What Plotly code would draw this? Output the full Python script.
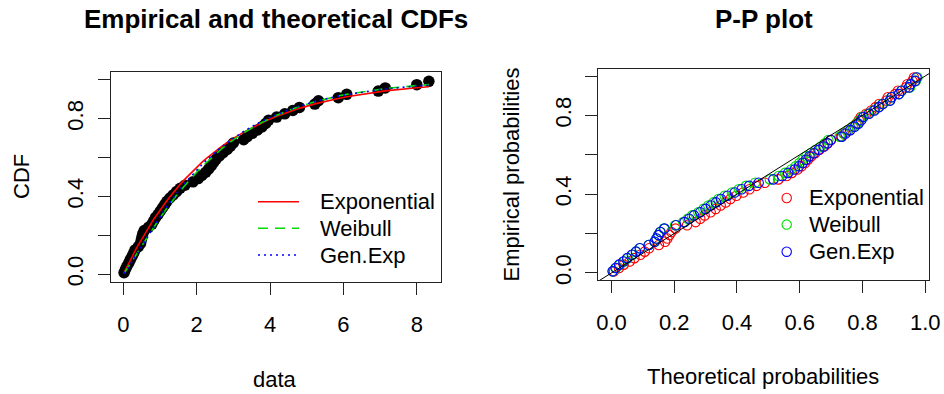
import plotly.graph_objects as go

# ---------------- data ----------------
data_x = [0.02, 0.06, 0.10, 0.15, 0.19, 0.24, 0.28, 0.32, 0.41, 0.47,
          0.49, 0.51, 0.53, 0.57, 0.69, 0.78, 0.83, 0.88, 0.95, 1.01,
          1.07, 1.13, 1.19, 1.27, 1.36, 1.45, 1.55, 1.68, 1.90, 2.04,
          2.14, 2.25, 2.33, 2.40, 2.46, 2.53, 2.62, 2.72, 2.83, 2.92,
          3.00, 3.28, 3.38, 3.52, 3.66, 3.78, 3.88, 3.96, 4.18, 4.40,
          4.62, 4.80, 5.22, 5.32, 5.86, 6.09, 6.95, 7.14, 8.00, 8.33]

emp_prob = [0.008, 0.025, 0.042, 0.058, 0.075, 0.092, 0.108, 0.125, 0.142, 0.158,
            0.175, 0.192, 0.208, 0.225, 0.242, 0.258, 0.275, 0.292, 0.308, 0.325,
            0.342, 0.358, 0.375, 0.392, 0.408, 0.425, 0.442, 0.458, 0.475, 0.492,
            0.508, 0.525, 0.542, 0.558, 0.575, 0.592, 0.608, 0.625, 0.642, 0.658,
            0.675, 0.692, 0.708, 0.725, 0.742, 0.758, 0.775, 0.792, 0.808, 0.825,
            0.842, 0.858, 0.875, 0.892, 0.908, 0.925, 0.942, 0.958, 0.975, 0.992]

cdf_exp = [0.008, 0.024, 0.039, 0.058, 0.073, 0.092, 0.106, 0.120, 0.151, 0.171,
           0.178, 0.185, 0.191, 0.204, 0.241, 0.268, 0.283, 0.297, 0.316, 0.332,
           0.348, 0.364, 0.379, 0.398, 0.420, 0.440, 0.462, 0.489, 0.532, 0.558,
           0.575, 0.593, 0.606, 0.617, 0.626, 0.637, 0.649, 0.663, 0.678, 0.689,
           0.699, 0.731, 0.741, 0.755, 0.769, 0.780, 0.788, 0.795, 0.812, 0.828,
           0.842, 0.853, 0.876, 0.881, 0.904, 0.913, 0.938, 0.943, 0.959, 0.964]

cdf_weib = [0.004, 0.015, 0.026, 0.040, 0.052, 0.067, 0.079, 0.091, 0.119, 0.137,
            0.143, 0.149, 0.155, 0.167, 0.203, 0.229, 0.243, 0.257, 0.277, 0.293,
            0.309, 0.325, 0.341, 0.361, 0.384, 0.406, 0.429, 0.458, 0.505, 0.533,
            0.553, 0.573, 0.587, 0.599, 0.609, 0.621, 0.635, 0.651, 0.667, 0.680,
            0.691, 0.727, 0.739, 0.754, 0.769, 0.781, 0.791, 0.799, 0.818, 0.835,
            0.851, 0.863, 0.887, 0.892, 0.917, 0.925, 0.951, 0.955, 0.970, 0.975]

cdf_genexp = [0.004, 0.013, 0.024, 0.038, 0.050, 0.065, 0.078, 0.090, 0.119, 0.138,
              0.144, 0.150, 0.156, 0.169, 0.206, 0.233, 0.248, 0.263, 0.283, 0.300,
              0.317, 0.333, 0.349, 0.370, 0.393, 0.415, 0.439, 0.469, 0.516, 0.544,
              0.563, 0.584, 0.598, 0.610, 0.620, 0.631, 0.645, 0.660, 0.676, 0.689,
              0.699, 0.734, 0.746, 0.761, 0.775, 0.787, 0.796, 0.803, 0.821, 0.838,
              0.853, 0.865, 0.888, 0.893, 0.916, 0.924, 0.948, 0.953, 0.968, 0.972]

model_names = ["Exponential", "Weibull", "Gen.Exp"]
model_cdfs = [cdf_exp, cdf_weib, cdf_genexp]

data_ticks = [0, 2, 4, 6, 8]
prob_ticks = [0.0, 0.2, 0.4, 0.6, 0.8, 1.0]
prob_y_ticktext = ["0.0", "", "0.4", "", "0.8", ""]
prob_x_ticktext = ["0.0", "0.2", "0.4", "0.6", "0.8", "1.0"]
identity_line = [-0.1, 1.1]

# ---------------- styling ----------------
W, H = 944, 394
FONT = "Liberation Sans, Arial, sans-serif"
colors = ["#FF0000", "#00DD00", "#0000FF"]
dashes = ["solid", "10px,7px", "2px,4px"]
AX = "#222222"


def px(x):
    """window pixel x -> paper fraction"""
    return x / W


def py(y):
    """window pixel y (from top) -> paper fraction"""
    return 1 - y / H


fig = go.Figure()

# Left panel: empirical points then theoretical CDF curves
fig.add_trace(go.Scatter(x=data_x, y=emp_prob, mode="markers",
                         marker=dict(color="black", size=11.5),
                         xaxis="x", yaxis="y", showlegend=False, name="data"))
for name, cdf, c, d in zip(model_names, model_cdfs, colors, dashes):
    fig.add_trace(go.Scatter(x=data_x, y=cdf, mode="lines",
                             line=dict(color=c, width=1.6, dash=d),
                             xaxis="x", yaxis="y", showlegend=False, name=name))

# Right panel: P-P plot
for name, cdf, c in zip(model_names, model_cdfs, colors):
    fig.add_trace(go.Scatter(x=cdf, y=emp_prob, mode="markers",
                             marker=dict(symbol="circle-open", size=9.5, color=c,
                                         line=dict(width=1.1, color=c)),
                             xaxis="x2", yaxis="y2", showlegend=False, name=name))
fig.add_trace(go.Scatter(x=identity_line, y=identity_line, mode="lines",
                         line=dict(color="black", width=1),
                         xaxis="x2", yaxis="y2", showlegend=False, hoverinfo="skip"))

axis_common = dict(showline=True, mirror=True, linecolor=AX, linewidth=1,
                   ticks="outside", ticklen=12, tickwidth=1, tickcolor=AX,
                   showgrid=False, zeroline=False, automargin=False,
                   tickfont=dict(family=FONT, size=22, color="black"))

fig.update_layout(
    width=W, height=H,
    margin=dict(l=0, r=0, t=0, b=0, pad=0, autoexpand=False),
    paper_bgcolor="white", plot_bgcolor="white",
    font=dict(family=FONT, color="black"),
    showlegend=False,
    xaxis=dict(domain=[px(111), px(441)], range=[-0.336, 8.66], anchor="y",
               tickvals=data_ticks, ticktext=[str(v) for v in data_ticks],
               ticklabelstandoff=11, **axis_common),
    yaxis=dict(domain=[py(282), py(72)], range=[-0.04, 1.04], anchor="x",
               tickvals=prob_ticks, ticktext=prob_y_ticktext, tickangle=-90,
               ticklabelstandoff=6, **axis_common),
    xaxis2=dict(domain=[px(598.3), px(929.3)], range=[-0.042, 1.013], anchor="y2",
                tickvals=prob_ticks, ticktext=prob_x_ticktext,
                ticklabelstandoff=11, **axis_common),
    yaxis2=dict(domain=[py(280), py(69.3)], range=[-0.036, 1.034], anchor="x2",
                tickvals=prob_ticks, ticktext=prob_y_ticktext, tickangle=-90,
                ticklabelstandoff=6, **axis_common),
)

ann = []
# titles
ann.append(dict(text="<b>Empirical and theoretical CDFs</b>", x=px(276), y=py(19),
                xref="paper", yref="paper", xanchor="center", yanchor="middle",
                showarrow=False, font=dict(family=FONT, size=26, color="black")))
ann.append(dict(text="<b>P-P plot</b>", x=px(763.8), y=py(19),
                xref="paper", yref="paper", xanchor="center", yanchor="middle",
                showarrow=False, font=dict(family=FONT, size=26, color="black")))
# axis titles
ann.append(dict(text="data", x=px(275), y=py(379), xref="paper", yref="paper",
                xanchor="center", yanchor="middle", showarrow=False,
                font=dict(family=FONT, size=22, color="black")))
ann.append(dict(text="Theoretical probabilities", x=px(763), y=py(376),
                xref="paper", yref="paper", xanchor="center", yanchor="middle",
                showarrow=False, font=dict(family=FONT, size=22, color="black")))
ann.append(dict(text="CDF", x=px(21), y=py(177), xref="paper", yref="paper",
                xanchor="center", yanchor="middle", textangle=-90, showarrow=False,
                font=dict(family=FONT, size=22, color="black")))
ann.append(dict(text="Empirical probabilities", x=px(511), y=py(174.5),
                xref="paper", yref="paper", xanchor="center", yanchor="middle",
                textangle=-90, showarrow=False,
                font=dict(family=FONT, size=22, color="black")))

shapes = []
# left legend (lines)
left_rows = [201.7, 228.3, 255.0]
for name, c, d, yy in zip(model_names, colors, dashes, left_rows):
    shapes.append(dict(type="line", xref="paper", yref="paper",
                       x0=px(258), x1=px(299), y0=py(yy), y1=py(yy),
                       line=dict(color=c, width=1.6, dash=d)))
    ann.append(dict(text=name, x=px(318), y=py(yy), xref="paper", yref="paper",
                    xanchor="left", yanchor="middle", showarrow=False,
                    font=dict(family=FONT, size=22, color="black")))
# right legend (open circles)
right_rows = [198.0, 224.6, 251.7]
for name, c, yy in zip(model_names, colors, right_rows):
    shapes.append(dict(type="circle", xref="paper", yref="paper",
                       xsizemode="pixel", ysizemode="pixel",
                       xanchor=px(786.7), yanchor=py(yy),
                       x0=-4.7, x1=4.7, y0=-4.7, y1=4.7,
                       line=dict(color=c, width=1.1)))
    ann.append(dict(text=name, x=px(806.7), y=py(yy), xref="paper", yref="paper",
                    xanchor="left", yanchor="middle", showarrow=False,
                    font=dict(family=FONT, size=22, color="black")))

fig.update_layout(annotations=ann, shapes=shapes)

# remove the browser's default 8px page margin so the figure fills the window
fig.write_html("out.html",
               config={"displayModeBar": False, "staticPlot": True},
               post_script="document.body.style.margin='0px';"
                           "document.body.style.overflow='hidden';")
